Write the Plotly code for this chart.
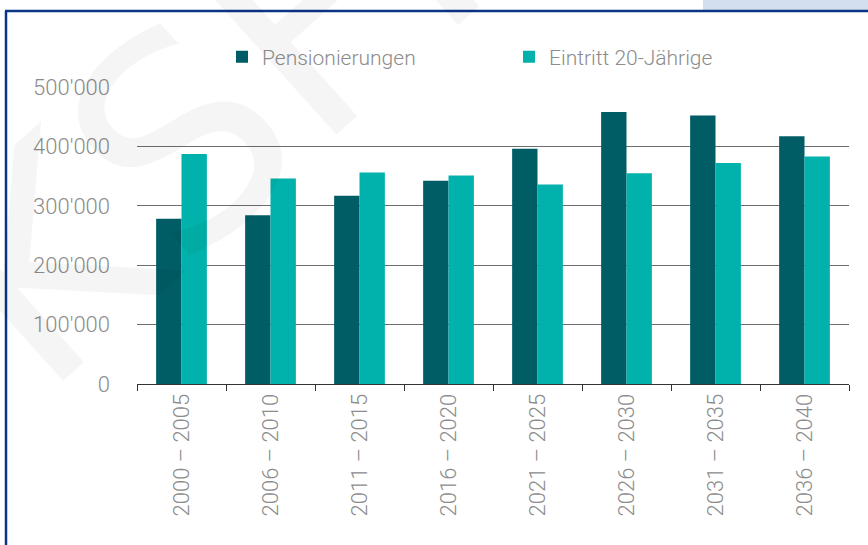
import plotly.graph_objects as go

categories = ["2000 – 2005", "2006 – 2010", "2011 – 2015", "2016 – 2020",
              "2021 – 2025", "2026 – 2030", "2031 – 2035", "2036 – 2040"]
pensionierungen = [278000, 284000, 317000, 342000, 396000, 458000, 452000, 417000]
eintritt_20 = [387000, 346000, 356000, 351000, 336000, 355000, 372000, 383000]
y_tickvals = [0, 100000, 200000, 300000, 400000, 500000]
y_ticktext = ["0", "100'000", "200'000", "300'000", "400'000", "500'000"]

W, H = 868, 545
L, R, T, B = 137, 19, 87, 161
pw, ph = W - L - R, H - T - B

def px(x):
    return (x - L) / pw

def py(y):
    return (H - B - y) / ph

FONT = "Roboto"
GRAY = "#8c8c8c"

fig = go.Figure()
fig.add_bar(name="Pensionierungen", x=categories, y=pensionierungen,
            marker=dict(color="#005c65", line=dict(width=0)))
fig.add_bar(name="Eintritt 20-Jährige", x=categories, y=eintritt_20,
            marker=dict(color="#00b2ab", line=dict(width=0)))

shapes = [
    dict(type="rect", xref="paper", yref="paper", x0=px(703), x1=px(875),
         y0=py(10), y1=py(-5), fillcolor="#d3deee", line=dict(width=0), layer="above"),
    dict(type="line", xref="paper", yref="paper", x0=px(5), x1=px(880),
         y0=py(11), y1=py(11), line=dict(color="#0b3486", width=2.5), layer="above"),
    dict(type="line", xref="paper", yref="paper", x0=px(6), x1=px(6),
         y0=py(11), y1=py(560), line=dict(color="#0b3486", width=2.5), layer="above"),
]

annotations = [
    dict(text="KSFI", xref="paper", yref="paper", x=px(205), y=py(120),
         showarrow=False, textangle=-42,
         font=dict(family="DejaVu Sans", size=285, color="rgba(0,0,0,0.04)", weight="normal"),
         xanchor="center", yanchor="middle"),
]

tickfont = dict(family=FONT, size=22, color=GRAY, weight=300)

fig.update_layout(
    width=W, height=H,
    margin=dict(l=L, r=R, t=T, b=B),
    paper_bgcolor="white", plot_bgcolor="white",
    barmode="group", bargap=0.43, bargroupgap=0,
    font=dict(family=FONT, color=GRAY, size=20, weight=300),
    showlegend=True,
    legend=dict(orientation="h", x=px(222), y=py(57), xanchor="left", yanchor="middle",
                font=dict(family=FONT, size=21, color=GRAY, weight=300),
                entrywidth=242, entrywidthmode="pixels",
                itemsizing="constant", bgcolor="rgba(0,0,0,0)"),
    shapes=shapes,
    annotations=annotations,
    xaxis=dict(type="category", tickangle=-90, tickson="boundaries",
               ticks="outside", ticklen=6, tickcolor="#333", tickwidth=1,
               showline=True, linecolor="#333", linewidth=1,
               showgrid=False, tickfont=tickfont),
    yaxis=dict(range=[0, 500000], tickvals=y_tickvals, ticktext=y_ticktext,
               showgrid=True, gridcolor="#6e6e6e", gridwidth=1,
               zeroline=False, showline=False, ticks="",
               ticklabelstandoff=26,
               tickfont=tickfont),
)

fig.write_html("out.html", config={"displayModeBar": False},
               post_script="document.body.style.margin='0px';")
